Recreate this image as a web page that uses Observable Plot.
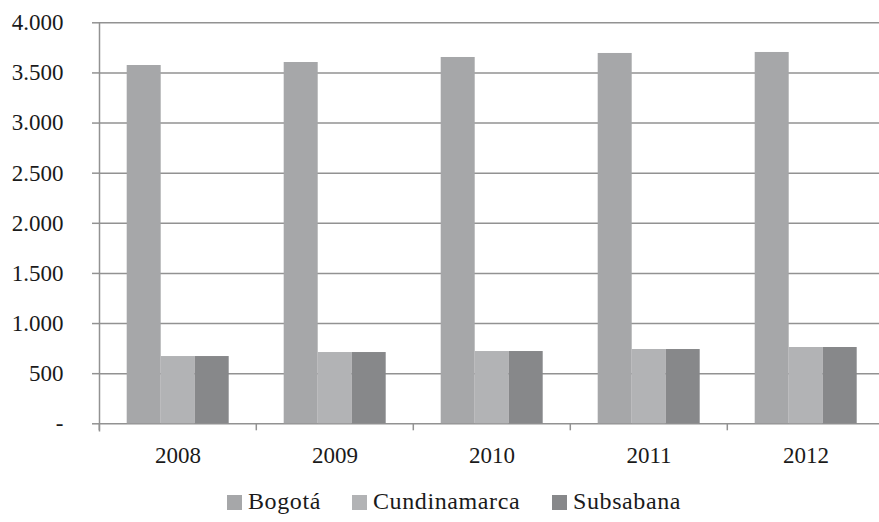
<!DOCTYPE html>
<html><head><meta charset="utf-8">
<script src="https://cdn.jsdelivr.net/npm/d3@7"></script>
<script src="https://cdn.jsdelivr.net/npm/@observablehq/plot@0.6"></script>
<style>
html,body{margin:0;padding:0;background:#fff;overflow:hidden;width:879px;height:522px;}
#chart{position:absolute;left:0;top:0;}
#legend{position:absolute;left:0;top:488px;width:879px;height:30px;font-family:"Liberation Serif","Times New Roman",Tinos,"DejaVu Serif";font-size:24px;letter-spacing:0.6px;line-height:26px;color:#1a1a1a;white-space:nowrap;}
.item{position:absolute;top:0;}
.sw{display:inline-block;width:15px;height:15px;margin-right:6px;position:relative;top:1px;}
</style></head><body>
<div id="chart"></div><div id="legend"></div>
<script>
const years = ["2008", "2009", "2010", "2011", "2012"];
const series = ["Bogotá", "Cundinamarca", "Subsabana"];
const bogota = [3574, 3604, 3654, 3694, 3704];
const cundinamarca = [671, 711, 721, 741, 761];
const subsabana = [671, 711, 721, 741, 761];
const colors = ["#a6a7a9", "#b2b3b5", "#87888a"];
const yTicks = [0, 500, 1000, 1500, 2000, 2500, 3000, 3500, 4000];
const yTickLabels = ["-", "500", "1.000", "1.500", "2.000", "2.500", "3.000", "3.500", "4.000"];
const legendLeft = [227, 352, 552];

const valuesBySeries = [bogota, cundinamarca, subsabana];
const rows = [];
years.forEach((yr, i) => series.forEach((s, j) => rows.push({year: yr, series: s, value: valuesBySeries[j][i]})));

const fxRange = [98.3, 885.3];
const step = (fxRange[1] - fxRange[0]) / years.length;
const gray = "#929292";
const serifFont = "'Liberation Serif', 'Times New Roman', Tinos, 'DejaVu Serif'";

const chart = Plot.plot({
  width: 879, height: 478,
  marginTop: 22.3, marginBottom: 54.7, marginLeft: 98.3, marginRight: 0,
  style: {fontFamily: serifFont, fontSize: "23px", color: "#1a1a1a", background: "#fff", overflow: "visible"},
  fx: {domain: years, range: fxRange, paddingInner: 0, paddingOuter: 0, label: null},
  x: {domain: series, paddingInner: 0, paddingOuter: 0.75, axis: null},
  y: {domain: [0, 4000], label: null},
  color: {domain: series, range: colors},
  marks: [
    Plot.gridY(yTicks, {stroke: gray, strokeOpacity: 1, strokeWidth: 1.5}),
    Plot.barY(rows, {fx: "year", x: "series", y: "value", fill: "series"}),
    Plot.frame({anchor: "left", facet: "super", stroke: gray, strokeWidth: 1.5, insetBottom: -7}),
    Plot.axisY(yTicks, {tickFormat: d => yTickLabels[yTicks.indexOf(d)], tickSize: 7, tickPadding: 29, stroke: gray, strokeWidth: 1.5, fill: "#1a1a1a", label: null}),
    Plot.axisFx({anchor: "bottom", tickSize: 0, tickPadding: 23, fill: "#1a1a1a", label: null}),
    Plot.axisFx({anchor: "bottom", tickSize: 7, tickFormat: () => "", dx: -step / 2, stroke: gray, strokeWidth: 1.5, label: null})
  ]
});
chart.style.fontFamily = serifFont;
document.getElementById("chart").appendChild(chart);

const legend = document.getElementById("legend");
series.forEach((s, j) => {
  const it = document.createElement("span");
  it.className = "item";
  it.style.left = legendLeft[j] + "px";
  const sw = document.createElement("span");
  sw.className = "sw";
  sw.style.background = colors[j];
  it.appendChild(sw);
  it.appendChild(document.createTextNode(s));
  legend.appendChild(it);
});
</script>
</body></html>
